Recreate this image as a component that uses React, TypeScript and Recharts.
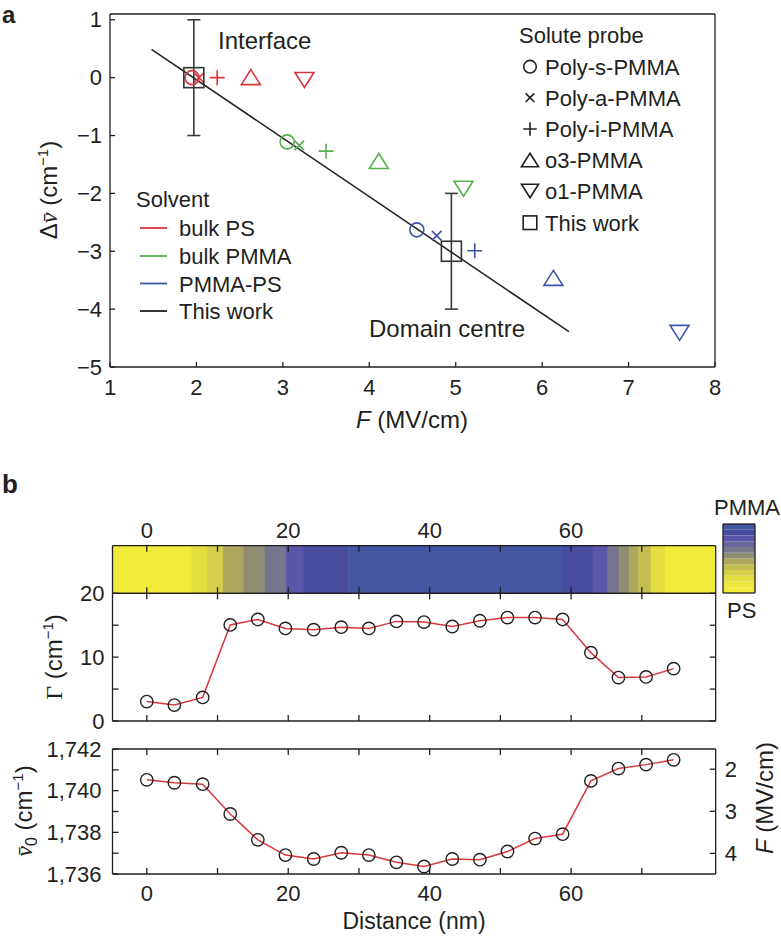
import React from "react";
import {
  ComposedChart,
  BarChart,
  Bar,
  Scatter,
  Line,
  XAxis,
  YAxis,
  ErrorBar,
  ReferenceArea,
} from "recharts";

// ---------- panel a ----------
const solventNames = ["bulk PS", "bulk PMMA", "PMMA-PS"];
const solventColors = ["#d8373e", "#5aae55", "#3d55a6"];
const probeNames = ["Poly-s-PMMA", "Poly-a-PMMA", "Poly-i-PMMA", "o3-PMMA", "o1-PMMA"];
const probeMarkers = ["circle", "cross", "plus", "triangle", "triangleDown"];
// F (MV/cm) per probe, one value per solvent (bulk PS, bulk PMMA, PMMA-PS)
const probeField = [
  [1.95, 3.05, 4.55],
  [2.03, 3.19, 4.78],
  [2.24, 3.5, 5.22],
  [2.63, 4.11, 6.13],
  [3.25, 5.09, 7.59],
];
// frequency shift (cm-1), same layout
const probeShift = [
  [0, -1.11, -2.63],
  [0, -1.17, -2.73],
  [0, -1.27, -2.99],
  [0.01, -1.44, -3.46],
  [-0.04, -1.92, -4.41],
];
const thisWorkField = [1.97, 4.95];
const thisWorkShift = [0, -3];
const thisWorkError = [1, 1];
const fitField = [1.48, 6.31];
const fitShift = [0.49, -4.39];
const fieldTicks = [1, 2, 3, 4, 5, 6, 7, 8];
const shiftTicks = [-5, -4, -3, -2, -1, 0, 1];

// ---------- panel b ----------
const distance = [0, 3.9, 7.9, 11.8, 15.7, 19.6, 23.6, 27.5, 31.4, 35.3, 39.2, 43.2, 47.1, 51.0, 54.9, 58.8, 62.8, 66.7, 70.6, 74.5];
const gamma = [3.05, 2.5, 3.7, 15.05, 15.9, 14.5, 14.3, 14.7, 14.5, 15.6, 15.5, 14.8, 15.7, 16.2, 16.2, 15.9, 10.7, 6.8, 6.9, 8.2];
const nu0 = [1740.52, 1740.38, 1740.31, 1738.88, 1737.64, 1736.91, 1736.72, 1737.02, 1736.91, 1736.56, 1736.36, 1736.72, 1736.69, 1737.08, 1737.7, 1737.91, 1740.47, 1741.06, 1741.25, 1741.48];
const distTicks = [0, 10, 20, 30, 40, 50, 60, 70];
const gammaTicks = [0, 5, 10, 15, 20];
const nuTicks = [1736, 1737, 1738, 1739, 1740, 1741, 1742];
const fieldRightTicks = [2, 3, 4];

// composition strip: segment start/end (nm) and colour level (0 = PS, 11 = PMMA)
const heatStart = [-4.85, 6.3, 8.6, 10.8, 13.7, 16.7, 19.7, 22.1, 28.5, 58.6, 63.1, 65.2, 66.8, 68.2, 69.5, 71.3, 73.3];
const heatEnd = [6.3, 8.6, 10.8, 13.7, 16.7, 19.7, 22.1, 28.5, 58.6, 63.1, 65.2, 66.8, 68.2, 69.5, 71.3, 73.3, 80.45];
const heatLevel = [0, 2, 3, 5, 6, 7, 9, 10, 11, 10, 9, 7, 6, 5, 4, 2, 0];
const colorLevels = [
  "#f2eb3a", "#ede63c", "#e4de40", "#d4ce48", "#c2be50", "#aca75c",
  "#8f8d72", "#76778c", "#68679c", "#5a56a8", "#4a4ca0", "#4457a3",
];

const FONT = "'Liberation Sans', Arial, Helvetica, sans-serif";
const INK = "#231f20";
const DIST_DOMAIN: [number, number] = [-4.85, 80.45];
const AXIS_LINE = { stroke: INK, strokeWidth: 1.3 };

const minus = (v: number) => (v < 0 ? "\u2212" + Math.abs(v) : String(v));

type Side = "bottom" | "top" | "left" | "right";
function makeTick(side: Side, fmt: ((v: number) => string) | null, gap = 8, len = 6, size = 22) {
  return (props: any) => {
    const { x, y, payload } = props;
    const label = fmt ? fmt(payload.value) : "";
    let x2 = x, y2 = y, tx = x, ty = y;
    let anchor: "middle" | "end" | "start" = "middle";
    let dy = "0";
    if (side === "bottom") { y2 = y - len; ty = y + gap; }
    else if (side === "top") { y2 = y + len; ty = y - gap; }
    else if (side === "left") { x2 = x + len; tx = x - gap; anchor = "end"; dy = "0.35em"; }
    else { x2 = x - len; tx = x + gap; anchor = "start"; dy = "0.35em"; }
    return (
      <g>
        <line x1={x} y1={y} x2={x2} y2={y2} stroke={INK} strokeWidth={1.3} />
        {label !== "" && (
          <text x={tx} y={ty} dy={dy} textAnchor={anchor} fontSize={size} fontFamily={FONT} fill={INK}>
            {label}
          </text>
        )}
      </g>
    );
  };
}

function Marker({ kind, cx, cy, color, k = 1 }: { kind: string; cx: number; cy: number; color: string; k?: number }) {
  const sw = 1.6;
  if (kind === "circle") return <circle cx={cx} cy={cy} r={7 * k} fill="none" stroke={color} strokeWidth={sw} />;
  if (kind === "cross") {
    const a = 4.8 * k;
    return <path d={`M${cx - a},${cy - a}L${cx + a},${cy + a}M${cx - a},${cy + a}L${cx + a},${cy - a}`} stroke={color} strokeWidth={sw} fill="none" />;
  }
  if (kind === "plus") {
    const a = 7.5 * k;
    return <path d={`M${cx - a},${cy}L${cx + a},${cy}M${cx},${cy - a}L${cx},${cy + a}`} stroke={color} strokeWidth={sw} fill="none" />;
  }
  if (kind === "triangle" || kind === "triangleDown") {
    const w = 9.5 * k, h = 7.5 * k;
    const s = kind === "triangle" ? 1 : -1;
    return <path d={`M${cx},${cy - s * h}L${cx + w},${cy + s * h}L${cx - w},${cy + s * h}Z`} stroke={color} strokeWidth={sw} fill="none" />;
  }
  const a = 10 * k;
  return <rect x={cx - a} y={cy - a} width={2 * a} height={2 * a} stroke={color} strokeWidth={sw} fill="none" />;
}

const solventPoints = solventNames.map((_, s) =>
  probeNames.map((_, p) => ({ F: probeField[p][s], shift: probeShift[p][s], p }))
);
const thisWork = thisWorkField.map((F, i) => ({ F, shift: thisWorkShift[i], err: thisWorkError[i] }));
const fitLine = fitField.map((F, i) => ({ F, shift: fitShift[i] }));

const profile = distance.map((d, i) => ({ d, gamma: gamma[i], nu: nu0[i] }));
const heatRows = heatStart.map((s, i) => ({ s, e: heatEnd[i], level: heatLevel[i] }));
const colorbarRow = colorLevels.reduce((acc: any, _, i) => ({ ...acc, ["l" + i]: 1 }), { k: "cb" });

const openDot = (props: any) => (
  <circle key={props.index} cx={props.cx} cy={props.cy} r={6.2} fill="none" stroke={INK} strokeWidth={1.4} />
);

function PanelA() {
  return (
    <ComposedChart width={781} height={450} margin={{ top: 13, right: 65, bottom: 82, left: 109 }}>
      <XAxis xAxisId={0} type="number" dataKey="F" domain={[1, 8]} ticks={fieldTicks} allowDataOverflow interval={0}
        height={1} tickSize={0} tickMargin={0} tickLine={false} axisLine={AXIS_LINE}
        tick={makeTick("bottom", (v) => String(v), 28, 5)} />
      <XAxis xAxisId="top" orientation="top" type="number" domain={[1, 8]} allowDataOverflow height={1}
        tick={false} tickLine={false} axisLine={AXIS_LINE} />
      <YAxis yAxisId={0} type="number" dataKey="shift" domain={[-5, 1.1]} ticks={shiftTicks} allowDataOverflow interval={0}
        width={1} tickSize={0} tickMargin={0} tickLine={false} axisLine={AXIS_LINE}
        tick={makeTick("left", minus, 8, 5)} />
      <YAxis yAxisId="right" orientation="right" type="number" domain={[-5, 1.1]} allowDataOverflow width={1}
        tick={false} tickLine={false} axisLine={AXIS_LINE} />
      <Scatter data={fitLine} dataKey="shift" line={{ stroke: INK, strokeWidth: 1.5 }} shape={() => <g />} isAnimationActive={false} />
      {solventPoints.map((pts, s) => (
        <Scatter key={s} data={pts} dataKey="shift" isAnimationActive={false}
          shape={(pr: any) => <Marker kind={probeMarkers[pr.payload.p]} cx={pr.cx} cy={pr.cy} color={solventColors[s]} />} />
      ))}
      <Scatter data={thisWork} dataKey="shift" isAnimationActive={false}
        shape={(pr: any) => <Marker kind="square" cx={pr.cx} cy={pr.cy} color="#333" />}>
        <ErrorBar dataKey="err" direction="y" width={6.5} stroke="#3a3a3a" strokeWidth={1.6} />
      </Scatter>
    </ComposedChart>
  );
}

function HeatStrip() {
  return (
    <ComposedChart width={781} height={100} data={heatRows} margin={{ top: 44.7, right: 64.3, bottom: 5.7, left: 111.5 }}>
      <XAxis xAxisId={0} type="number" dataKey="s" domain={DIST_DOMAIN} ticks={distTicks} allowDataOverflow interval={0}
        height={1} tickSize={0} tickMargin={0} tickLine={false} axisLine={AXIS_LINE}
        tick={makeTick("bottom", null)} />
      <XAxis xAxisId="top" orientation="top" type="number" dataKey="s" domain={DIST_DOMAIN} ticks={distTicks} allowDataOverflow interval={0}
        height={1} tickSize={0} tickMargin={0} tickLine={false} axisLine={AXIS_LINE}
        tick={makeTick("top", (v) => (v % 20 === 0 ? String(v) : ""), 8)} />
      <YAxis yAxisId={0} type="number" domain={[0, 1]} allowDataOverflow width={1} tick={false} tickLine={false}
        axisLine={AXIS_LINE} />
      <YAxis yAxisId="right" orientation="right" type="number" domain={[0, 1]} allowDataOverflow width={1} tick={false}
        tickLine={false} axisLine={AXIS_LINE} />
      {heatRows.map((r, i) => (
        <ReferenceArea key={i} x1={r.s} x2={r.e} y1={0} y2={1} fill={colorLevels[r.level]} fillOpacity={1}
          stroke={colorLevels[r.level]} strokeWidth={0.6} ifOverflow="hidden" />
      ))}
    </ComposedChart>
  );
}

function GammaPanel() {
  return (
    <ComposedChart width={781} height={160} data={profile} margin={{ top: 17.3, right: 64.3, bottom: 13, left: 111.5 }}>
      <XAxis xAxisId={0} type="number" dataKey="d" domain={DIST_DOMAIN} ticks={distTicks} allowDataOverflow interval={0}
        height={1} tickSize={0} tickMargin={0} tickLine={false} axisLine={AXIS_LINE}
        tick={makeTick("bottom", null)} />
      <XAxis xAxisId="top" orientation="top" type="number" dataKey="d" domain={DIST_DOMAIN} ticks={distTicks} allowDataOverflow interval={0}
        height={1} tickSize={0} tickMargin={0} tickLine={false} axisLine={AXIS_LINE}
        tick={makeTick("top", null)} />
      <YAxis yAxisId={0} type="number" domain={[0, 20]} ticks={gammaTicks} allowDataOverflow interval={0}
        width={1} tickSize={0} tickMargin={0} tickLine={false} axisLine={AXIS_LINE}
        tick={makeTick("left", (v) => (v % 10 === 0 ? String(v) : ""), 8)} />
      <YAxis yAxisId="right" orientation="right" type="number" domain={[0, 20]} ticks={gammaTicks} allowDataOverflow interval={0}
        width={1} tickSize={0} tickMargin={0} tickLine={false} axisLine={AXIS_LINE}
        tick={makeTick("right", null)} />
      <Line type="linear" dataKey="gamma" stroke="#d8373e" strokeWidth={1.5} dot={openDot} isAnimationActive={false} />
    </ComposedChart>
  );
}

function NuPanel() {
  return (
    <ComposedChart width={781} height={212} data={profile} margin={{ top: 23, right: 64.3, bottom: 62, left: 111.5 }}>
      <XAxis xAxisId={0} type="number" dataKey="d" domain={DIST_DOMAIN} ticks={distTicks} allowDataOverflow interval={0}
        height={1} tickSize={0} tickMargin={0} tickLine={false} axisLine={AXIS_LINE}
        tick={makeTick("bottom", (v) => (v % 20 === 0 ? String(v) : ""), 27)} />
      <XAxis xAxisId="top" orientation="top" type="number" dataKey="d" domain={DIST_DOMAIN} ticks={distTicks} allowDataOverflow interval={0}
        height={1} tickSize={0} tickMargin={0} tickLine={false} axisLine={AXIS_LINE}
        tick={makeTick("top", null)} />
      <YAxis yAxisId={0} type="number" domain={[1736, 1742]} ticks={nuTicks} allowDataOverflow interval={0}
        width={1} tickSize={0} tickMargin={0} tickLine={false} axisLine={AXIS_LINE}
        tick={makeTick("left", (v) => (v % 2 === 0 ? v.toLocaleString("en-US") : ""), 11)} />
      <YAxis yAxisId="right" orientation="right" type="number" domain={[1.52, 4.49]} reversed ticks={fieldRightTicks}
        allowDataOverflow interval={0} width={1} tickSize={0} tickMargin={0} tickLine={false}
        axisLine={AXIS_LINE} tick={makeTick("right", (v) => String(v), 9)} />
      <Line type="linear" dataKey="nu" stroke="#d8373e" strokeWidth={1.5} dot={openDot} isAnimationActive={false} />
    </ComposedChart>
  );
}

function ColorBar() {
  return (
    <BarChart width={40} height={77} data={[colorbarRow]} margin={{ top: 3, right: 3, bottom: 3, left: 3 }}
      barCategoryGap={0} barGap={0}>
      <XAxis xAxisId={0} dataKey="k" height={1} tick={false} tickLine={false} axisLine={AXIS_LINE} />
      <XAxis xAxisId="top" orientation="top" dataKey="k" height={1} tick={false} tickLine={false} axisLine={AXIS_LINE} />
      <YAxis yAxisId={0} type="number" domain={[0, colorLevels.length]} width={1} tick={false} tickLine={false} axisLine={AXIS_LINE} />
      <YAxis yAxisId="right" orientation="right" type="number" domain={[0, colorLevels.length]} width={1} tick={false} tickLine={false} axisLine={AXIS_LINE} />
      {colorLevels.map((c, i) => (
        <Bar key={i} dataKey={"l" + i} stackId="cb" fill={c} isAnimationActive={false} />
      ))}
    </BarChart>
  );
}

function Overlay() {
  const t = { fontFamily: FONT, fill: INK } as const;
  const solventRowsY = [228, 256, 283.5, 311];
  const probeRowsY = [66.7, 97.7, 129, 160, 191, 222.7];
  return (
    <svg width={781} height={937} style={{ position: "absolute", left: 0, top: 0, pointerEvents: "none" }}>
      <text x={2} y={23} fontSize={24} fontWeight="bold" {...t}>a</text>
      <text x={2} y={493} fontSize={26} fontWeight="bold" {...t}>b</text>
      <text x={218} y={49} fontSize={24} {...t}>Interface</text>
      <text x={369} y={337} fontSize={24} {...t}>Domain centre</text>

      {/* solute probe legend */}
      <text x={519} y={43} fontSize={22} {...t}>Solute probe</text>
      {[...probeMarkers, "square"].map((m, i) => (
        <g key={m}>
          <Marker kind={m} cx={530} cy={probeRowsY[i]} color={INK} k={m === "square" ? 0.68 : 0.9} />
          <text x={545} y={probeRowsY[i] + 8} fontSize={22} {...t}>{i < probeNames.length ? probeNames[i] : "This work"}</text>
        </g>
      ))}

      {/* solvent legend */}
      <text x={136} y={207} fontSize={22} {...t}>Solvent</text>
      {[...solventNames, "This work"].map((n, i) => (
        <g key={n}>
          <line x1={140} x2={167} y1={solventRowsY[i]} y2={solventRowsY[i]} stroke={i < 3 ? solventColors[i] : INK} strokeWidth={1.8} />
          <text x={179} y={solventRowsY[i] + 8} fontSize={22} {...t}>{n}</text>
        </g>
      ))}

      {/* axis titles panel a */}
      <text transform="translate(57,190) rotate(-90)" textAnchor="middle" fontSize={24} {...t}>
        <tspan>Δ</tspan>
        <tspan fontFamily="'Liberation Serif', serif" fontStyle="italic">v&#772;</tspan>
        <tspan> (cm</tspan>
        <tspan dy={-9} fontSize={15}>−1</tspan>
        <tspan dy={9}>)</tspan>
      </text>
      <text x={412} y={428} textAnchor="middle" fontSize={24} {...t}>
        <tspan fontStyle="italic">F</tspan> (MV/cm)
      </text>

      {/* panel b labels */}
      <text transform="translate(62,657) rotate(-90)" textAnchor="middle" fontSize={24} {...t}>
        <tspan fontFamily="'Liberation Serif', serif">Γ</tspan>
        <tspan> (cm</tspan>
        <tspan dy={-9} fontSize={15}>−1</tspan>
        <tspan dy={9}>)</tspan>
      </text>
      <text transform="translate(32,811) rotate(-90)" textAnchor="middle" fontSize={24} {...t}>
        <tspan fontFamily="'Liberation Serif', serif" fontStyle="italic">v&#772;</tspan>
        <tspan dy={5} fontSize={16}>0</tspan>
        <tspan dy={-5}> (cm</tspan>
        <tspan dy={-9} fontSize={15}>−1</tspan>
        <tspan dy={9}>)</tspan>
      </text>
      <text transform="translate(773,798) rotate(-90)" textAnchor="middle" fontSize={24} {...t}>
        <tspan fontStyle="italic">F</tspan> (MV/cm)
      </text>
      <text x={414} y={929} textAnchor="middle" fontSize={23} {...t}>Distance (nm)</text>
      <text x={747} y={515} textAnchor="middle" fontSize={22} {...t}>PMMA</text>
      <text x={727} y={618} fontSize={22} {...t}>PS</text>
    </svg>
  );
}

export default function App() {
  return (
    <div style={{ position: "absolute", left: 0, top: 0, width: 781, height: 937, background: "#fff", fontFamily: FONT }}>
      <div style={{ position: "absolute", left: 0, top: 0 }}><PanelA /></div>
      <div style={{ position: "absolute", left: 0, top: 500 }}><HeatStrip /></div>
      <div style={{ position: "absolute", left: 0, top: 575 }}><GammaPanel /></div>
      <div style={{ position: "absolute", left: 0, top: 725 }}><NuPanel /></div>
      <div style={{ position: "absolute", left: 719.3, top: 520.3 }}><ColorBar /></div>
      <Overlay />
    </div>
  );
}
